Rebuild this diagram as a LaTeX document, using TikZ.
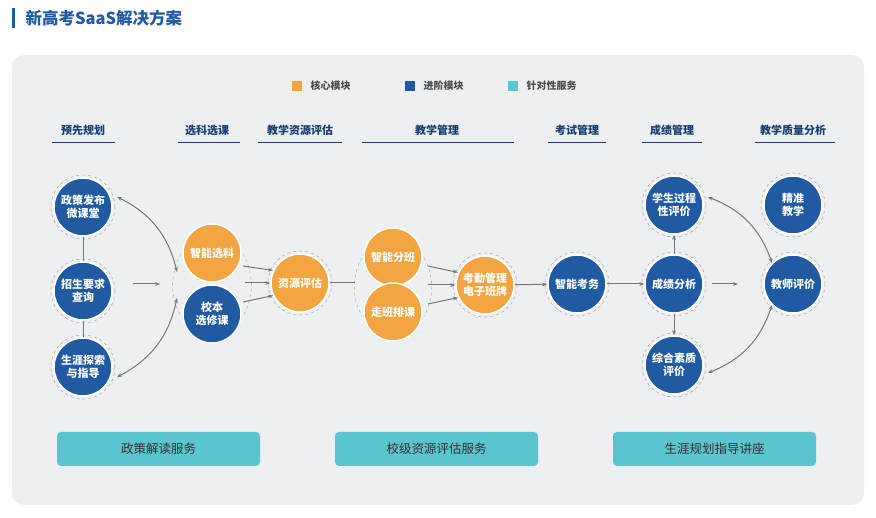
\documentclass[tikz,border=0pt]{standalone}
\usepackage{fontspec}
\newfontfamily\cjk{Noto Sans CJK SC}
\usetikzlibrary{arrows.meta}
\definecolor{corange}{HTML}{F2A541}
\definecolor{cblue}{HTML}{1F5AA3}
\definecolor{cteal}{HTML}{5BC4CF}
\definecolor{cpanel}{HTML}{EEEFF2}
\definecolor{cline}{HTML}{777777}
\tikzset{
  core/.style={circle, fill=corange, draw=white, line width=1.5pt, minimum size=58pt, inner sep=0pt, text=white, font=\cjk\bfseries\fontsize{11}{13.5}\selectfont, align=center},
  adv/.style={core, fill=cblue},
  svc/.style={rounded corners=4pt, fill=cteal, minimum width=203pt, minimum height=34pt, font=\cjk\fontsize{12.5}{14}\selectfont, text=black!80},
  head/.style={font=\cjk\bfseries\fontsize{11}{13}\selectfont, text=cblue!70!black},
  conn/.style={draw=cline, line width=1pt, -{Stealth[length=5pt]}},
  both/.style={draw=cline, line width=1pt, {Stealth[length=5pt]}-{Stealth[length=5pt]}},
  link/.style={draw=cline, line width=1pt},
  ring/.style={draw=gray!70, dashed, line width=0.5pt}
}
\begin{document}
\begin{tikzpicture}[x=1pt, y=-1pt, font=\cjk]
\useasboundingbox (0,0) rectangle (876,518);
\fill[white] (0,0) rectangle (876,518);
% title
\fill[cblue] (12,8) rectangle (15,28);
\node (title) [anchor=west, text=cblue, font=\cjk\bfseries\fontsize{16.5}{19}\selectfont] at (22,18) {新高考SaaS解决方案};
\fill[cpanel] [rounded corners=12pt] (12,55) rectangle (864,505);
% legend
\fill[corange] (292,81) rectangle (302,91);
\node (lg1) [anchor=west, font=\cjk\bfseries\fontsize{10}{12}\selectfont, text=black!70] at (307,86) {核心模块};
\fill[cblue] (405,81) rectangle (415,91);
\node (lg2) [anchor=west, font=\cjk\bfseries\fontsize{10}{12}\selectfont, text=black!70] at (420,86) {进阶模块};
\fill[cteal] (508,81) rectangle (518,91);
\node (lg3) [anchor=west, font=\cjk\bfseries\fontsize{10}{12}\selectfont, text=black!70] at (523,86) {针对性服务};
% headers
\foreach \x/\a/\b/\t in {83/52/115/预先规划, 207/178/240/选科选课, 300/258/342/教学资源评估, 437/362/514/教学管理, 577/548/606/考试管理, 672/642/702/成绩管理, 793/755/835/教学质量分析}{
  \node [head] at (\x,130) {\t};
  \draw[cblue!70!black, line width=1pt] (\a,143) -- (\b,143);
}
% nodes
\node (zc) [adv] at (83,207) {政策发布\\微课堂};
\node (zs) [adv] at (83,291) {招生要求\\查询};
\node (sy) [adv] at (83,367) {生涯探索\\与指导};
\node (xk) [core] at (212,253) {智能选科};
\node (xb) [adv] at (212,314) {校本\\选修课};
\node (zy) [core] at (300,283) {资源评估};
\node (fb) [core] at (393,257) {智能分班};
\node (pk) [core] at (393,312) {走班排课};
\node (kq) [core] at (485,285) {考勤管理\\电子班牌};
\node (kw) [adv] at (577,284) {智能考务};
\node (xs) [adv] at (674,205) {学生过程\\性评价};
\node (cj) [adv] at (674,284) {成绩分析};
\node (zh) [adv] at (674,365) {综合素质\\评价};
\node (jz) [adv] at (793,205) {精准\\教学};
\node (js) [adv] at (793,284) {教师评价};
% rings
\foreach \n in {zc,zs,sy,zy,kq,kw,xs,cj,zh,jz,js}{
  \draw[ring] (\n.center) circle (32pt);
}
\draw[ring] (181,254) arc (150:210:62pt);
\draw[ring] (243,254) arc (30:-30:62pt);
\draw[ring] (362,258) arc (150:210:58pt);
\draw[ring] (424,258) arc (30:-30:58pt);
% connectors
\coordinate (p1) at (160,284);
\coordinate (p2) at (133,284);
\coordinate (g1) at (177,272);
\coordinate (g2) at (177,298);
\draw[link] (zc) -- (zs);
\draw[link] (zs) -- (sy);
\draw[conn] (p2) -- (p1);
\draw[both] (zc.20) ++(6,0) to[bend left=25] (g1);
\draw[both] (sy.-20) ++(6,0) to[bend right=25] (g2);
\draw[conn] (243,266) -- (zy.155);
\draw[conn] (245,283) -- (zy.west);
\draw[conn] (243,302) -- (zy.205);
\draw[link] (zy.east) -- (355,283);
\draw[conn] (428,266) -- (kq.155);
\draw[conn] (428,285) -- (kq.west);
\draw[conn] (428,304) -- (kq.205);
\draw[conn] (kq) -- (kw);
\draw[conn] (kw) -- (cj);
\draw[conn] (cj) -- (xs);
\draw[conn] (cj) -- (zh);
\draw[conn] (712,284) -- (738,284);
\draw[both] (xs.east) ++(4,-8) to[bend left=25] (js.north west);
\draw[both] (zh.east) ++(4,8) to[bend right=25] (js.south west);
% services
\node (s1) [svc] at (158.5,449) {政策解读服务};
\node (s2) [svc] at (436.5,449) {校级资源评估服务};
\node (s3) [svc] at (714.5,449) {生涯规划指导讲座};
\end{tikzpicture}
\end{document}
